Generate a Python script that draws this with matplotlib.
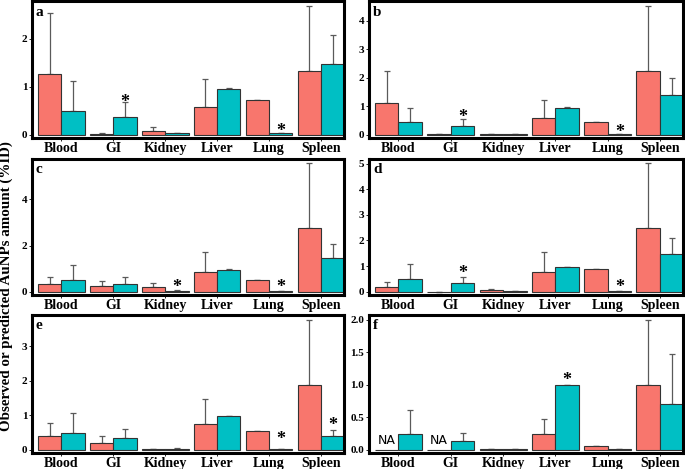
import numpy as np
import matplotlib
matplotlib.use("Agg")
import matplotlib.pyplot as plt

plt.rcParams['font.family'] = ['Liberation Serif', 'DejaVu Serif']
plt.rcParams['font.weight'] = 'bold'

organs = ["Blood", "GI", "Kidney", "Liver", "Lung", "Spleen"]
panels = ["a", "b", "c", "d", "e", "f"]

# observed (red) and predicted (teal) means, with upper error (sd)
obs_a = [1.27, 0.02, 0.08, 0.58, 0.72, 1.33]
obs_a_sd = [1.27, 0.02, 0.08, 0.58, 0.01, 1.35]
pred_a = [0.50, 0.37, 0.03, 0.95, 0.03, 1.48]
pred_a_sd = [0.62, 0.32, 0.01, 0.02, 0.0, 0.60]

obs_b = [1.12, 0.01, 0.03, 0.59, 0.43, 2.24]
obs_b_sd = [1.12, 0.0, 0.01, 0.61, 0.01, 2.28]
pred_b = [0.43, 0.31, 0.02, 0.95, 0.02, 1.41]
pred_b_sd = [0.51, 0.24, 0.01, 0.02, 0.0, 0.59]

obs_c = [0.34, 0.25, 0.22, 0.86, 0.51, 2.78]
obs_c_sd = [0.28, 0.20, 0.16, 0.86, 0.02, 2.80]
pred_c = [0.51, 0.34, 0.04, 0.95, 0.03, 1.47]
pred_c_sd = [0.66, 0.28, 0.02, 0.02, 0.0, 0.60]

obs_d = [0.20, 0.01, 0.05, 0.77, 0.88, 2.49]
obs_d_sd = [0.19, 0.0, 0.04, 0.79, 0.01, 2.53]
pred_d = [0.51, 0.33, 0.03, 0.95, 0.03, 1.48]
pred_d_sd = [0.57, 0.25, 0.01, 0.02, 0.0, 0.60]

obs_e = [0.39, 0.20, 0.01, 0.75, 0.53, 1.88]
obs_e_sd = [0.39, 0.19, 0.01, 0.72, 0.01, 1.88]
pred_e = [0.49, 0.33, 0.03, 0.97, 0.03, 0.40]
pred_e_sd = [0.56, 0.26, 0.01, 0.02, 0.0, 0.18]

obs_f = [np.nan, np.nan, 0.01, 0.245, 0.055, 1.00]
obs_f_sd = [np.nan, np.nan, 0.01, 0.235, 0.005, 1.00]
pred_f = [0.24, 0.14, 0.01, 0.99, 0.02, 0.71]
pred_f_sd = [0.37, 0.12, 0.01, 0.005, 0.0, 0.77]

obs_all = [obs_a, obs_b, obs_c, obs_d, obs_e, obs_f]
obs_sd_all = [obs_a_sd, obs_b_sd, obs_c_sd, obs_d_sd, obs_e_sd, obs_f_sd]
pred_all = [pred_a, pred_b, pred_c, pred_d, pred_e, pred_f]
pred_sd_all = [pred_a_sd, pred_b_sd, pred_c_sd, pred_d_sd, pred_e_sd, pred_f_sd]

# significance stars on predicted bars: organ index and height of the star
star_idx = [[1, 4], [1, 4], [2, 4], [1, 4], [4, 5], [3]]
star_y = [[0.78, 0.17], [0.79, 0.26], [0.41, 0.38], [0.91, 0.35], [0.43, 0.85], [1.14]]

yticks_all = [[0, 1, 2], [0, 1, 2, 3, 4], [0, 2, 4], [0, 1, 2, 3, 4, 5],
              [0, 1, 2, 3], [0.0, 0.5, 1.0, 1.5, 2.0]]

red = "#F8766D"
teal = "#00BFC4"

fig = plt.figure(figsize=(6.85, 4.69), dpi=100)

lefts = [0.047, 0.539]
widths = [0.455, 0.458]
bottoms = [0.706, 0.371, 0.034]
heights = [0.291, 0.291, 0.294]

x = np.arange(len(organs))
bw = 0.45

for k in range(6):
    row, col = k // 2, k % 2
    ax = fig.add_axes([lefts[col], bottoms[row], widths[col], heights[row]])
    obs = np.array(obs_all[k], dtype=float)
    obs_sd = np.array(obs_sd_all[k], dtype=float)
    pred = np.array(pred_all[k], dtype=float)
    pred_sd = np.array(pred_sd_all[k], dtype=float)

    # error bars first (upper only), then bars on top
    for xs, m, s in [(x - bw / 2, obs, obs_sd), (x + bw / 2, pred, pred_sd)]:
        ok = ~np.isnan(m)
        ax.errorbar(xs[ok], m[ok], yerr=[np.zeros(ok.sum()), s[ok]], fmt="none",
                    ecolor="#5a5a5a", elinewidth=0.9, capsize=2.5, capthick=0.9, zorder=1)
    ax.bar(x - bw / 2, np.nan_to_num(obs), bw, color=red, edgecolor="#333333", linewidth=0.8, zorder=2)
    ax.bar(x + bw / 2, pred, bw, color=teal, edgecolor="#333333", linewidth=0.8, zorder=2)

    top = np.nanmax(np.concatenate([obs + obs_sd, pred + pred_sd]))
    ax.set_ylim(-0.025 * top, 1.035 * top)
    ax.set_xlim(-0.56, 5.44)

    for i, yy in zip(star_idx[k], star_y[k]):
        ax.annotate("*", (x[i] + bw / 2, yy), xytext=(0, -3.5),
                    textcoords="offset points", ha="center", va="center",
                    fontsize=13, fontweight="bold")
    for i in range(len(organs)):
        if np.isnan(obs[i]):
            ax.text(x[i] - bw / 2, 0.02 * top, "NA", ha="center", va="bottom",
                    fontsize=9, fontweight="normal", family="DejaVu Sans")

    ax.set_xticks(x)
    ax.set_xticklabels(organs, fontsize=10, fontweight="bold")
    ax.set_yticks(yticks_all[k])
    if k == 5:
        ax.set_yticklabels(["0.0", "0.5", "1.0", "1.5", "2.0"])
    ax.tick_params(axis="y", labelsize=8, length=2, width=0.6, pad=1.5)
    ax.tick_params(axis="x", length=2, width=0.6, pad=1)
    for sp in ax.spines.values():
        sp.set_linewidth(2.2)
        sp.set_color("black")
    ax.text(0.012, 0.97, panels[k], transform=ax.transAxes, ha="left", va="top",
            fontsize=11, fontweight="bold")

fig.text(0.009, 0.389, "Observed or predicted AuNPs amount (%ID)", rotation=90,
         ha="center", va="center", fontsize=10.8, fontweight="bold")

fig.savefig("out.png", dpi=100)
